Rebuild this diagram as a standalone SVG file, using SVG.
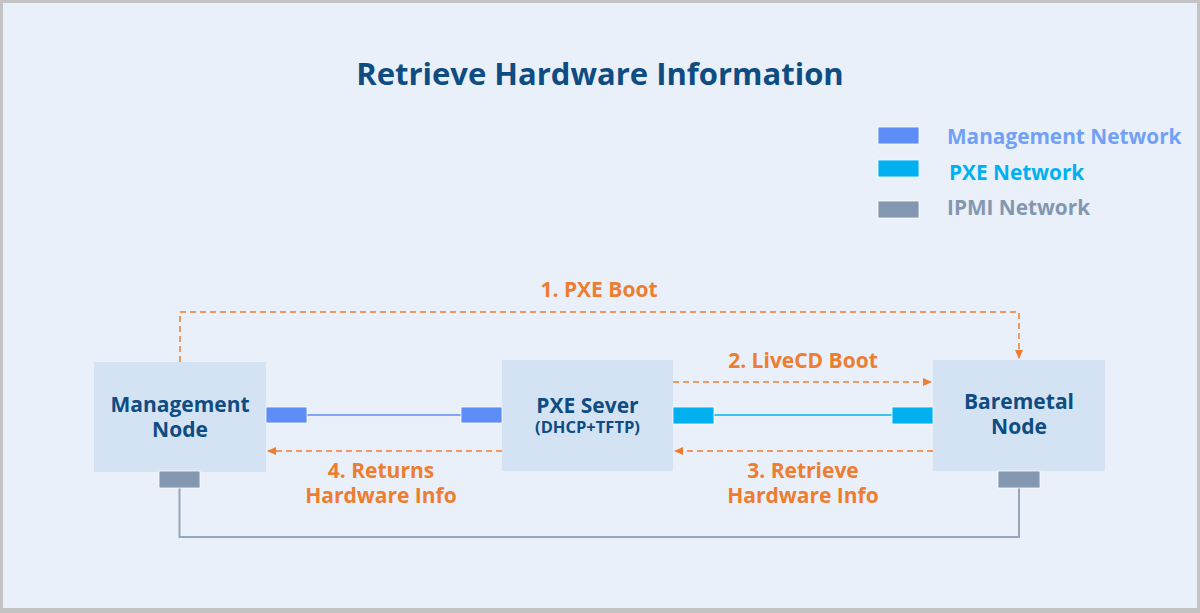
<svg xmlns="http://www.w3.org/2000/svg" width="1200" height="613" viewBox="0 0 1200 613">
<defs>
<style>
text{font-family:"Open Sans","Noto Sans","Liberation Sans",sans-serif;font-weight:700;}
.title{font-size:31px;fill:#0E4C82;}
.node{fill:#D3E3F4;}
.nt{font-size:21px;fill:#0E4C82;text-anchor:middle;}
.ns{font-size:16.5px;fill:#0E4C82;text-anchor:middle;}
.lbl{font-size:21px;fill:#ED7D31;text-anchor:middle;}
.flow{fill:none;stroke:#ED7D31;stroke-width:1.5;stroke-dasharray:6 4;}
.mg{fill:#5F8DF8;stroke:#FFFFFF;stroke-width:0.8;}
.px{fill:#00B0F0;stroke:#FFFFFF;stroke-width:0.8;}
.ip{fill:#8497B0;stroke:#FFFFFF;stroke-width:0.8;}
.leg{font-size:20.8px;}
</style>
<marker id="arr" markerWidth="10" markerHeight="10" refX="8" refY="5" orient="auto" markerUnits="userSpaceOnUse">
<path d="M0,1 L9,5 L0,9 Z" fill="#ED7D31"/>
</marker>
</defs>
<rect x="0" y="0" width="1200" height="613" fill="#C3C3C3"/>
<rect x="3" y="3" width="1194" height="605" fill="#E9F0F9"/>
<text class="title" x="600" y="85" text-anchor="middle">Retrieve Hardware Information</text>
<g id="legend">
<rect class="mg" x="878" y="127" width="41" height="17"/>
<text class="leg" x="947" y="144" fill="#72A0F6">Management Network</text>
<rect class="px" x="878" y="160" width="41" height="17"/>
<text class="leg" x="949" y="180" fill="#00B0F0">PXE Network</text>
<rect class="ip" x="878" y="201" width="41" height="17"/>
<text class="leg" x="947" y="215" fill="#8497B0">IPMI Network</text>
</g>
<g id="connectors">
<line x1="306" y1="415" x2="461" y2="415" stroke="#5F8DF8" stroke-width="1.5"/>
<line x1="714" y1="415" x2="892" y2="415" stroke="#00B0F0" stroke-width="1.5"/>
<polyline points="179.5,488 179.5,537 1019,537 1019,488" fill="none" stroke="#97A6BB" stroke-width="2"/>
<polyline class="flow" points="180,362 180,312 1019,312 1019,358" marker-end="url(#arr)"/>
<line class="flow" x1="673" y1="382" x2="931" y2="382" marker-end="url(#arr)"/>
<line class="flow" x1="933" y1="451" x2="675" y2="451" marker-end="url(#arr)"/>
<line class="flow" x1="502" y1="451" x2="268" y2="451" marker-end="url(#arr)"/>
<text class="lbl" x="599" y="297">1. PXE Boot</text>
<text class="lbl" x="803" y="368">2. LiveCD Boot</text>
<text class="lbl" x="803" y="478">3. Retrieve</text>
<text class="lbl" x="803" y="503">Hardware Info</text>
<text class="lbl" x="381" y="478">4. Returns</text>
<text class="lbl" x="381" y="503">Hardware Info</text>
</g>
<g id="management-node">
<rect class="node" x="94" y="362" width="172" height="110"/>
<text class="nt" x="180" y="412">Management</text>
<text class="nt" x="180" y="437">Node</text>
<rect class="mg" x="266" y="407" width="41" height="16"/>
<rect class="ip" x="159" y="471" width="41" height="17"/>
</g>
<g id="pxe-server">
<rect class="node" x="502" y="360" width="171" height="111"/>
<text class="nt" x="587.5" y="413">PXE Sever</text>
<text class="ns" x="587.5" y="433">(DHCP+TFTP)</text>
<rect class="mg" x="461" y="407" width="41" height="16"/>
<rect class="px" x="673" y="407" width="41" height="17"/>
</g>
<g id="baremetal-node">
<rect class="node" x="933" y="360" width="172" height="111"/>
<text class="nt" x="1019" y="409">Baremetal</text>
<text class="nt" x="1019" y="434">Node</text>
<rect class="px" x="892" y="407" width="41" height="17"/>
<rect class="ip" x="998" y="471" width="42" height="17"/>
</g>
</svg>
